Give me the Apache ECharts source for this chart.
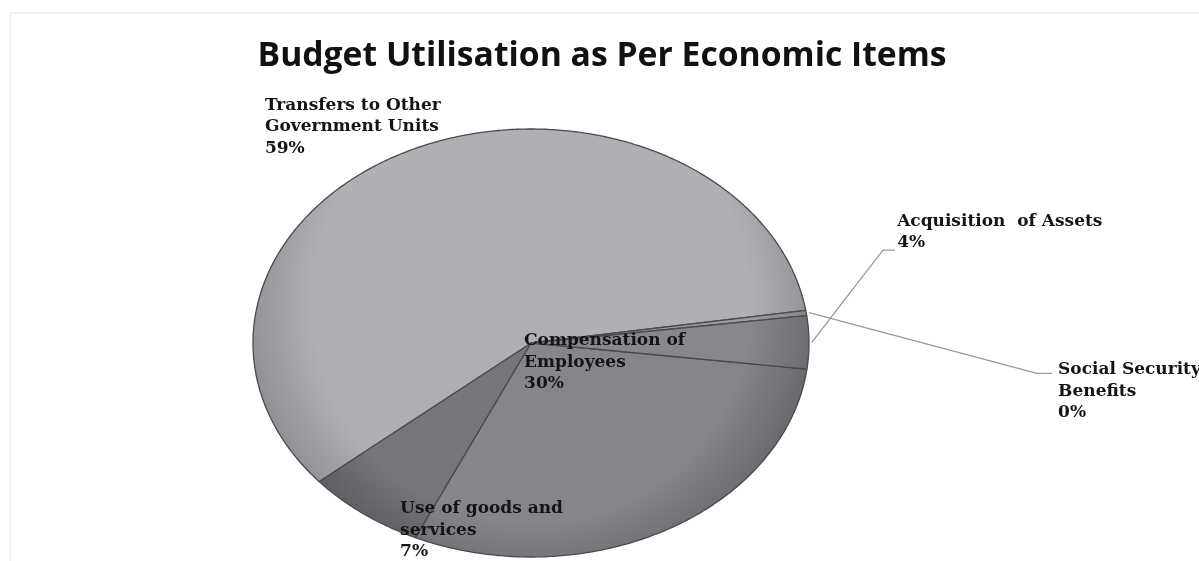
<!DOCTYPE html>
<html><head><meta charset="utf-8">
<script src="https://cdn.jsdelivr.net/npm/echarts@6/dist/echarts.min.js"></script>
<style>html,body{margin:0;padding:0;background:#fff}#c{width:1199px;height:561px}</style>
</head><body><div id="c"></div>
<script>
// ---- data ----
const categories = ['Compensation of\nEmployees', 'Use of goods and\nservices', 'Transfers to Other\nGovernment Units', 'Social Security\nBenefits', 'Acquisition  of Assets'];
const values = [30, 7, 59, 0.4, 4];
const titleText = 'Budget Utilisation as Per Economic Items';

// ---- style / layout ----
const START_DEG = -7; // math angle of first slice start, going clockwise
const sliceColors = [
  ['#86868a', '#67676b'],
  ['#76767a', '#58585c'],
  ['#b0b0b4', '#8e8e92'],
  ['#9c9ca0', '#808084'],
  ['#88888c', '#6a6a6e']
];
// label top-left anchors in ellipse units, and optional leader elbow
const labelLayout = [
  {x: -0.025, y: 0.061},
  {x: -0.471, y: -0.725},
  {x: -0.957, y: 1.16},
  {x: 1.896, y: -0.075, elbow: [1.820, -0.142], end: [1.874, -0.142]},
  {x: 1.317, y: 0.618, elbow: [1.266, 0.434], end: [1.309, 0.434]}
];

const total = values.reduce((a, b) => a + b, 0);
const cum = [];
values.reduce((acc, v, i) => { cum[i] = acc; return acc + v; }, 0);

const chart = echarts.init(document.getElementById('c'), null, {renderer: 'canvas'});

function renderItem(params, api) {
  const i = params.dataIndex;
  const v = api.value(2);
  const a0 = (START_DEG - cum[i] / total * 360) * Math.PI / 180;
  const a1 = (START_DEG - (cum[i] + v) / total * 360) * Math.PI / 180;
  const pts = [api.coord([0, 0])];
  const n = Math.max(2, Math.ceil(Math.abs(a1 - a0) / 0.01));
  for (let k = 0; k <= n; k++) {
    const a = a0 + (a1 - a0) * k / n;
    pts.push(api.coord([Math.cos(a), Math.sin(a)]));
  }
  const c = api.coord([0, 0]);
  const edge = api.coord([1, 0]);
  const r = edge[0] - c[0];
  const fill = new echarts.graphic.RadialGradient(c[0], c[1] - 40, r * 1.05, [
    {offset: 0, color: sliceColors[i][0]},
    {offset: 0.75, color: sliceColors[i][0]},
    {offset: 1, color: sliceColors[i][1]}
  ], true);
  const children = [{
    type: 'polygon',
    shape: {points: pts},
    style: {fill: fill, stroke: '#4a4a4e', lineWidth: 1.3, lineJoin: 'round'}
  }];
  const L = labelLayout[i];
  const lp = api.coord([L.x, L.y]);
  const pct = Math.round(v / total * 100) + '%';
  children.push({
    type: 'text', z2: 100,
    style: {
      text: categories[i] + '\n' + pct, x: lp[0], y: lp[1],
      font: 'bold 17px "DejaVu Serif"', fill: '#141414',
      align: 'left', verticalAlign: 'top', lineHeight: 21.5
    }
  });
  if (L.elbow) {
    const am = (a0 + a1) / 2;
    const p0 = api.coord([Math.cos(am) * 1.01, Math.sin(am) * 1.01]);
    children.push({
      type: 'polyline', z2: 90,
      shape: {points: [p0, api.coord(L.elbow), api.coord(L.end)]},
      style: {stroke: '#9a9a9e', lineWidth: 1.3, fill: null}
    });
  }
  return {type: 'group', children: children};
}

chart.setOption({
  backgroundColor: '#ffffff',
  animation: false,
  title: {
    text: titleText, left: 597, top: 34, textAlign: 'center',
    textStyle: {fontFamily: 'Open Sans', fontWeight: 'bold', fontSize: 33.7, color: '#111'}
  },
  graphic: [{
    type: 'rect', shape: {x: 10, y: 13, width: 1200, height: 560},
    style: {fill: null, stroke: '#e2e2ea', lineWidth: 1}, silent: true
  }],
  grid: {left: 253, top: 129, width: 556, height: 428},
  xAxis: {type: 'value', min: -1, max: 1, show: false},
  yAxis: {type: 'value', min: -1, max: 1, show: false},
  series: [{
    type: 'custom', clip: false,
    renderItem: renderItem,
    encode: {x: 0, y: 1},
    data: values.map(v => [0, 0, v])
  }]
});
</script></body></html>
